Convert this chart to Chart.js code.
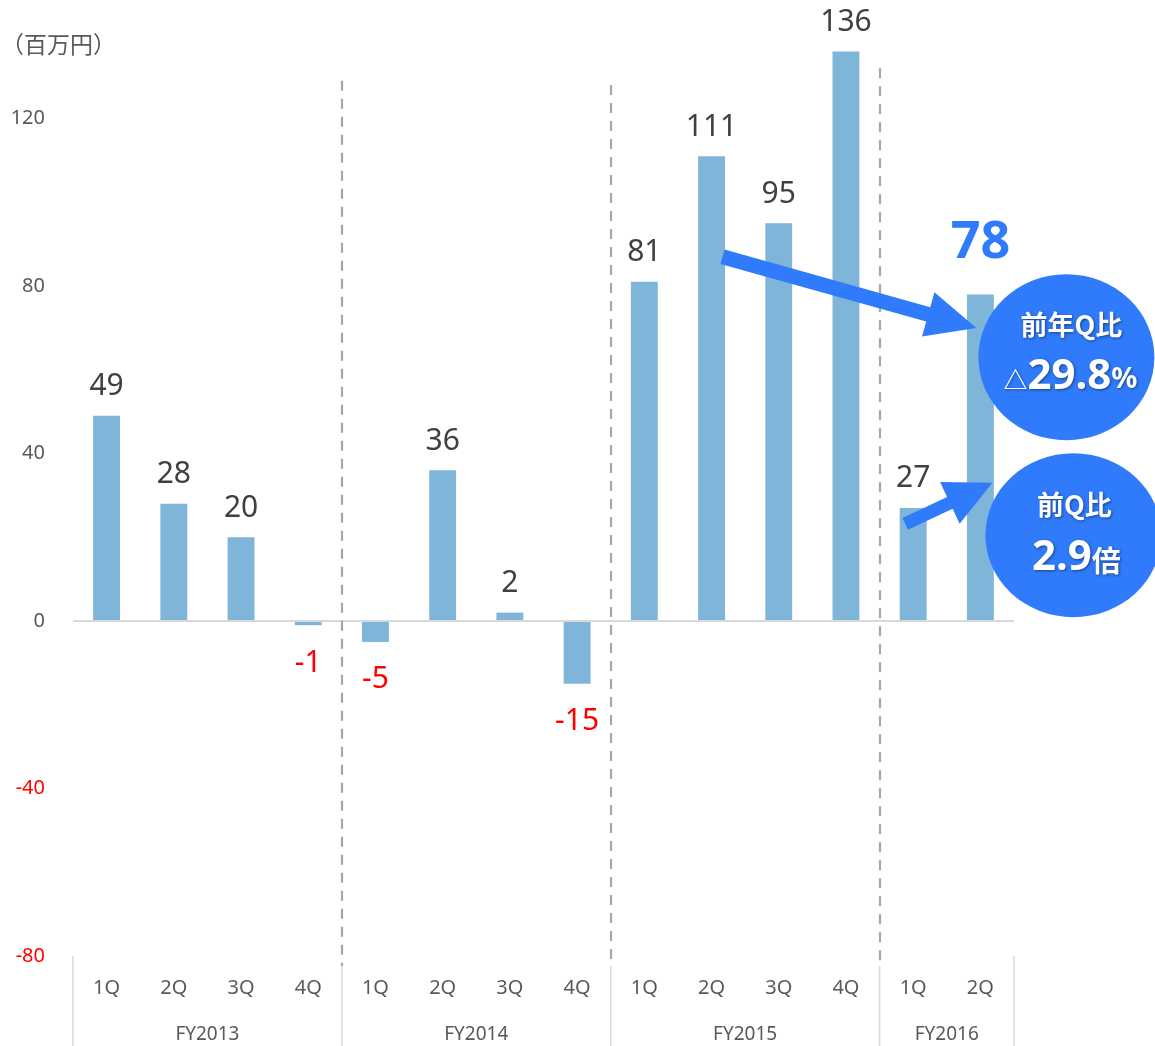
<!DOCTYPE html>
<html>
<head>
<meta charset="utf-8">
<script src="https://cdn.jsdelivr.net/npm/chart.js@4.4.1/dist/chart.umd.min.js"></script>
<style>
  body { margin: 0; background: #fff; }
  #grafico { display: block; }
</style>
</head>
<body>
<canvas id="grafico" width="1155" height="1046"></canvas>
<script>
// dados (百万円)
var trimestres = ["1Q", "2Q", "3Q", "4Q", "1Q", "2Q", "3Q", "4Q", "1Q", "2Q", "3Q", "4Q", "1Q", "2Q"];
var anos = ["FY2013", "FY2014", "FY2015", "FY2016"];
var trimestresPorAno = [4, 4, 4, 2];
var valores = [49, 28, 20, -1, -5, 36, 2, -15, 81, 111, 95, 136, 27, 78];
var ticksY = [-80, -40, 0, 40, 80, 120];

var AZUL = "#2F7BFB";
var FONTE = "'Noto Sans', 'Noto Sans CJK JP', sans-serif";
var FONTE_JP = "'Noto Sans CJK JP', 'Noto Sans', sans-serif";

function desenharSeta(ctx, x1, y1, x2, y2, largura, compCabeca, meiaCabeca) {
  var ang = Math.atan2(y2 - y1, x2 - x1);
  var len = Math.hypot(x2 - x1, y2 - y1);
  ctx.save();
  ctx.translate(x1, y1);
  ctx.rotate(ang);
  ctx.beginPath();
  ctx.moveTo(0, -largura / 2);
  ctx.lineTo(len - compCabeca, -largura / 2);
  ctx.lineTo(len - compCabeca, -meiaCabeca);
  ctx.lineTo(len, 0);
  ctx.lineTo(len - compCabeca, meiaCabeca);
  ctx.lineTo(len - compCabeca, largura / 2);
  ctx.lineTo(0, largura / 2);
  ctx.closePath();
  ctx.fillStyle = AZUL;
  ctx.fill();
  ctx.restore();
}

// linha de texto com partes de tamanhos diferentes, centrada em cx
function textoMisto(ctx, partes, cx, cy) {
  var total = 0;
  partes.forEach(function (p) {
    ctx.font = p.font;
    p.w = ctx.measureText(p.t).width;
    total += p.w;
  });
  var x = cx - total / 2;
  partes.forEach(function (p) {
    ctx.font = p.font;
    ctx.fillText(p.t, x, cy + (p.dy || 0));
    x += p.w;
  });
}

var pluginExtras = {
  id: "extras",
  beforeDatasetsDraw: function (chart) {
    var ctx = chart.ctx;
    var area = chart.chartArea;
    var x = chart.scales.x;
    var y = chart.scales.y;
    var passo = x.getPixelForValue(1) - x.getPixelForValue(0);

    // divisórias tracejadas entre anos
    ctx.save();
    ctx.strokeStyle = "#A6A6A6";
    ctx.lineWidth = 2.2;
    ctx.setLineDash([10, 8]);
    var idx = 0;
    var topos = [129, 128, 132];
    for (var i = 0; i < trimestresPorAno.length - 1; i++) {
      idx += trimestresPorAno[i];
      var px = Math.round(x.getPixelForValue(idx) - passo / 2);
      ctx.beginPath();
      ctx.moveTo(px, y.getPixelForValue(topos[i]));
      ctx.lineTo(px, area.bottom + 10);
      ctx.stroke();
    }
    ctx.restore();
  },
  afterDatasetsDraw: function (chart) {
    var ctx = chart.ctx;
    var area = chart.chartArea;
    var x = chart.scales.x;
    var y = chart.scales.y;
    var passo = x.getPixelForValue(1) - x.getPixelForValue(0);

    // eixo categorias: linhas sólidas e anos
    ctx.save();
    ctx.strokeStyle = "#D9D9D9";
    ctx.lineWidth = 1.5;
    var inicio = 0;
    ctx.beginPath();
    var px0 = x.getPixelForValue(0) - passo / 2;
    ctx.moveTo(px0, area.bottom);
    ctx.lineTo(px0, chart.height);
    ctx.stroke();
    ctx.fillStyle = "#595959";
    ctx.font = "19px " + FONTE;
    ctx.textAlign = "center";
    ctx.textBaseline = "middle";
    anos.forEach(function (ano, i) {
      var fim = inicio + trimestresPorAno[i];
      var esq = x.getPixelForValue(inicio) - passo / 2;
      var dir = x.getPixelForValue(fim - 1) + passo / 2;
      ctx.beginPath();
      ctx.moveTo(dir, area.bottom + (i < anos.length - 1 ? 10 : 0));
      ctx.lineTo(dir, chart.height);
      ctx.stroke();
      ctx.fillText(ano, (esq + dir) / 2, 1035);
      inicio = fim;
    });

    // unidade
    ctx.textAlign = "left";
    ctx.font = "23px " + FONTE_JP;
    ctx.fillText("（百万円）", 1, 44);

    // rótulos das barras
    ctx.textAlign = "center";
    valores.forEach(function (v, i) {
      if (i === valores.length - 1) return;
      var bx = x.getPixelForValue(i);
      ctx.font = "30px " + FONTE;
      if (v >= 0) {
        ctx.fillStyle = "#404040";
        ctx.fillText(String(v), bx, y.getPixelForValue(v) - 29);
      } else {
        ctx.fillStyle = "#FF0000";
        ctx.fillText(String(v), bx, y.getPixelForValue(v) + 38);
      }
    });
    var ult = valores.length - 1;
    var bUlt = x.getPixelForValue(ult);
    ctx.fillStyle = AZUL;
    ctx.font = "bold 52px " + FONTE;
    ctx.fillText(String(valores[ult]), bUlt, y.getPixelForValue(valores[ult]) - 51);

    // setas
    desenharSeta(ctx, x.getPixelForValue(9) + 11, y.getPixelForValue(87),
      bUlt - 4, y.getPixelForValue(70), 15, 50, 23);
    desenharSeta(ctx, x.getPixelForValue(12) - 8, y.getPixelForValue(23.2),
      bUlt + 12, y.getPixelForValue(33), 13, 47, 23);

    // balões
    var c1x = bUlt + 86, c1y = y.getPixelForValue(63);
    var c2x = bUlt + 93, c2y = y.getPixelForValue(20.5);
    ctx.fillStyle = AZUL;
    ctx.beginPath();
    ctx.ellipse(c1x, c1y, 88, 83, 0, 0, Math.PI * 2);
    ctx.fill();
    ctx.beginPath();
    ctx.ellipse(c2x, c2y, 88, 82, 0, 0, Math.PI * 2);
    ctx.fill();

    ctx.fillStyle = "#fff";
    ctx.shadowColor = "rgba(0,0,0,0.45)";
    ctx.shadowBlur = 3;
    ctx.shadowOffsetX = 1;
    ctx.shadowOffsetY = 1;
    ctx.font = "bold 27px " + FONTE_JP;
    ctx.fillText("前年Q比", c1x + 5, c1y - 32);
    ctx.textAlign = "left";
    textoMisto(ctx, [
      { t: "△", font: "bold 24px " + FONTE_JP, dy: 3 },
      { t: "29.8", font: "bold 42px " + FONTE },
      { t: "%", font: "bold 29px " + FONTE, dy: 3 }
    ], c1x + 4, c1y + 20);
    ctx.textAlign = "center";
    ctx.font = "bold 27px " + FONTE_JP;
    ctx.fillText("前Q比", c2x + 1, c2y - 30);
    ctx.textAlign = "left";
    textoMisto(ctx, [
      { t: "2.9", font: "bold 42px " + FONTE },
      { t: "倍", font: "bold 29px " + FONTE_JP, dy: 3 }
    ], c2x + 3, c2y + 23);
    ctx.restore();
  }
};

new Chart(document.getElementById("grafico"), {
  type: "bar",
  data: {
    labels: trimestres,
    datasets: [
      {
        data: valores,
        backgroundColor: "#7EB5D8",
        categoryPercentage: 1,
        barPercentage: 0.4,
      },
    ],
  },
  options: {
    responsive: false,
    animation: false,
    devicePixelRatio: 1,
    layout: {
      padding: { top: 31, right: 141, left: 0, bottom: 0 },
    },
    plugins: {
      legend: { display: false },
      tooltip: { enabled: false },
    },
    scales: {
      x: {
        grid: { display: false },
        border: { display: false },
        ticks: {
          color: "#595959",
          font: { size: 20, family: FONTE },
          padding: 12,
          maxRotation: 0,
          autoSkip: false,
        },
        afterFit: function (s) { s.height = 90; },
      },
      y: {
        min: -80,
        max: 138.75,
        afterBuildTicks: function (s) {
          s.ticks = ticksY.map(function (v) { return { value: v }; });
        },
        border: { display: false },
        grid: {
          drawTicks: false,
          lineWidth: 2,
          color: function (c) { return c.tick && c.tick.value === 0 ? "#D9D9D9" : "rgba(0,0,0,0)"; },
        },
        ticks: {
          padding: 28,
          font: { size: 20, family: FONTE },
          color: function (c) { return c.tick.value < 0 ? "#FF0000" : "#595959"; },
        },
        afterFit: function (s) { s.width = 73; },
      },
    },
  },
  plugins: [pluginExtras],
});
</script>
</body>
</html>
